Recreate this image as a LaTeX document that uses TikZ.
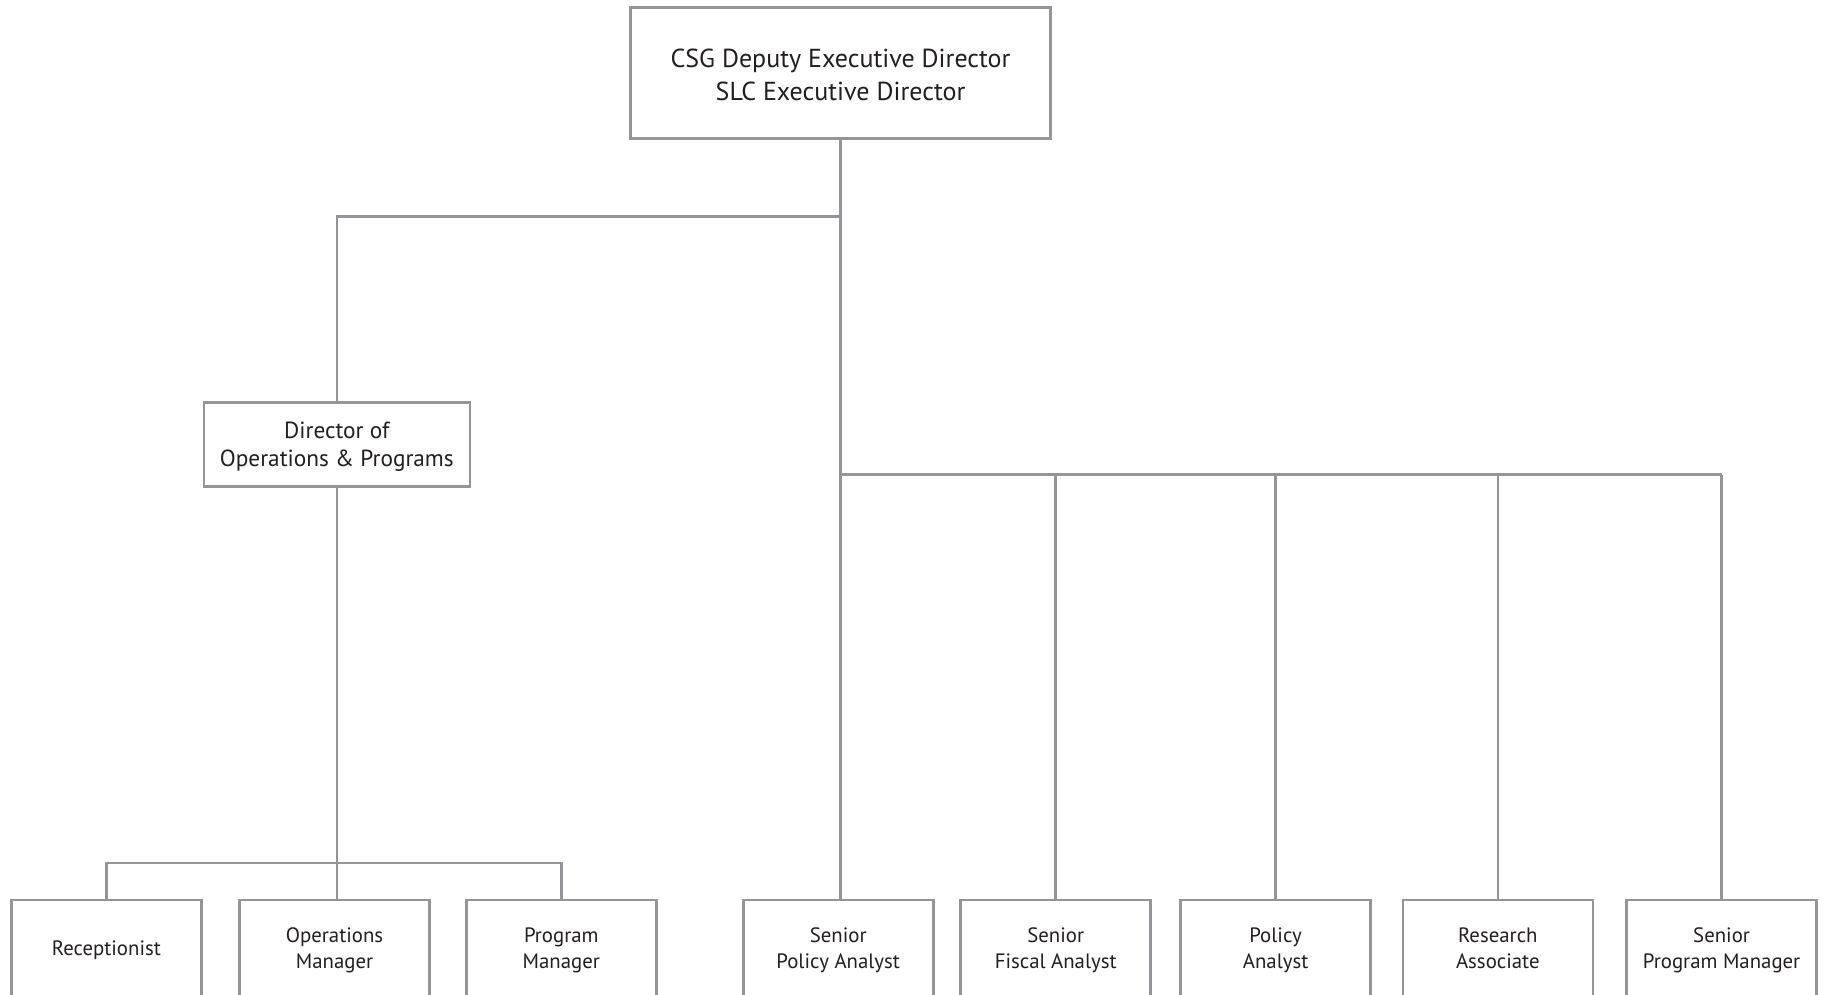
\documentclass[tikz,border=0pt]{standalone}
\usepackage{fontspec}
\setmainfont{PT Sans}
\definecolor{linegray}{HTML}{939598}
\definecolor{textdark}{HTML}{231F20}
% first-line and last-line struts for the three box sizes
\newcommand{\Ta}{\rule{0pt}{32.1pt}}
\newcommand{\Tz}{\rule[-9.8pt]{0pt}{1pt}}
\newcommand{\Ma}{\rule{0pt}{24.2pt}}
\newcommand{\Mz}{\rule[-8.4pt]{0pt}{1pt}}
\newcommand{\La}{\rule{0pt}{22.5pt}}
\newcommand{\Lz}{\rule[-7.7pt]{0pt}{1pt}}
\begin{document}
\begin{tikzpicture}[x=1pt,y=-1pt,
  box/.style={draw=linegray, line width=2.6pt, rectangle, align=center, text=textdark, inner sep=0pt},
  topbox/.style={box, minimum width=420pt, minimum height=131pt, font=\fontsize{26}{32.6}\selectfont},
  midbox/.style={box, minimum width=266pt, minimum height=84pt, font=\fontsize{23.3}{28}\selectfont},
  lowbox/.style={box, minimum width=190pt, minimum height=96pt, font=\fontsize{20.8}{25.6}\selectfont},
  conn/.style={draw=linegray, line width=2.6pt}]
\useasboundingbox (0,0) rectangle (1824,994);
\clip (0,0) rectangle (1824,994);
\fill[white] (0,0) rectangle (1824,994);
\node[topbox] (top) at (840.5,72.7) {\Ta CSG Deputy Executive Director\\SLC Executive Director\Tz};
\node[midbox] (dir) at (336.8,444.4) {\Ma Director of\\Operations \& Programs\Mz};
\node[lowbox] (rec) at (106.4,948) {\La Receptionist\Lz};
\node[lowbox] (opm) at (334.5,948) {\La Operations\\Manager\Lz};
\node[lowbox] (pm) at (561.3,948) {\La Program\\Manager\Lz};
\node[lowbox] (spa) at (838.2,948) {\La Senior\\Policy Analyst\Lz};
\node[lowbox] (sfa) at (1055.7,948) {\La Senior\\Fiscal Analyst\Lz};
\node[lowbox] (pa) at (1275.6,948) {\La Policy\\Analyst\Lz};
\node[lowbox] (ra) at (1497.8,948) {\La Research\\Associate\Lz};
\node[lowbox] (spm) at (1721.6,948) {\La Senior\\Program Manager\Lz};
\coordinate (j1) at (840.5,216.4);
\coordinate (j2) at (840.5,474.6);
\coordinate (j3) at (336.8,863);
% top to director
\draw[conn] (top.south) -- (j1) -| (dir.north);
% top spine to senior policy analyst
\draw[conn] (top.south) -- (top.south |- spa.north);
% right bus
\draw[conn] (j2) -- (j2 -| spm.north);
\draw[conn] (j2 -| sfa.north) -- (sfa.north);
\draw[conn] (j2 -| pa.north) -- (pa.north);
\draw[conn] (j2 -| ra.north) -- (ra.north);
\draw[conn] (j2 -| spm.north) -- (spm.north);
% director to its staff
\draw[conn] (dir.south) -- (dir.south |- opm.north);
\draw[conn] (rec.north) |- (j3) -| (pm.north);
\end{tikzpicture}
\end{document}
